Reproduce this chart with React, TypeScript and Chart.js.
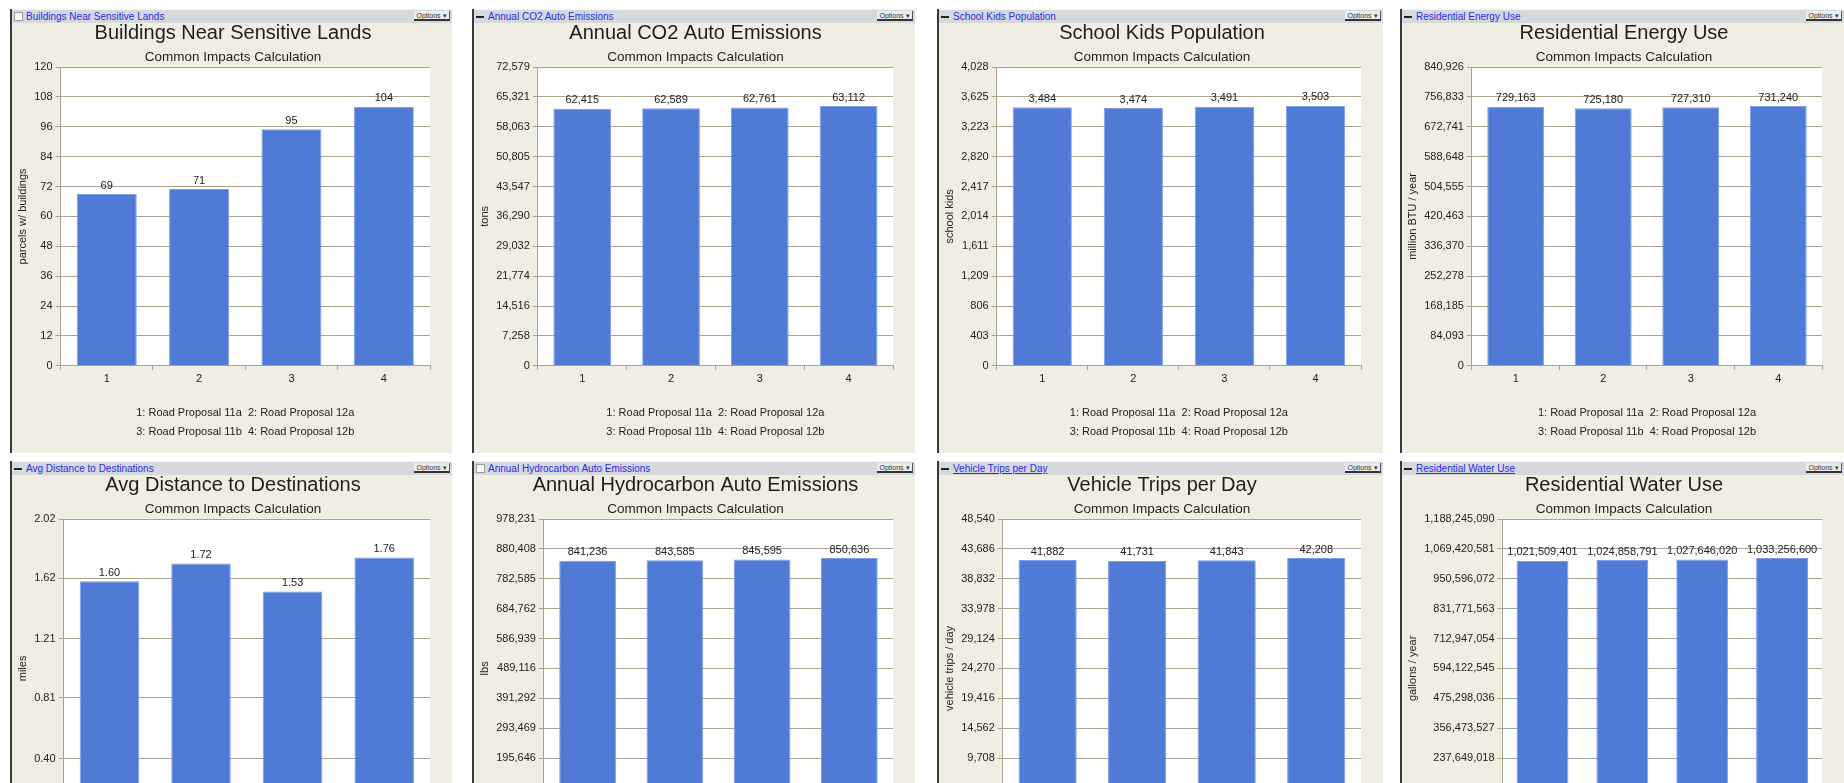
import React, { useEffect, useRef } from 'react';
import { Chart, registerables } from 'chart.js';

Chart.register(...registerables);

const FONT = "'Liberation Sans', Arial, Helvetica, sans-serif";

// ---------- data ----------
const categories = ['1', '2', '3', '4'];
const legendLines = [
  '1: Road Proposal 11a  2: Road Proposal 12a',
  '3: Road Proposal 11b  4: Road Proposal 12b',
];
const subtitleText = 'Common Impacts Calculation';

const buildingsValues = [69, 71, 95, 104];
const buildingsTicks = [0, 12, 24, 36, 48, 60, 72, 84, 96, 108, 120];

const co2Values = [62415, 62589, 62761, 63112];
const co2Ticks = [0, 7258, 14516, 21774, 29032, 36290, 43547, 50805, 58063, 65321, 72579];

const kidsValues = [3484, 3474, 3491, 3503];
const kidsTicks = [0, 403, 806, 1209, 1611, 2014, 2417, 2820, 3223, 3625, 4028];

const energyValues = [729163, 725180, 727310, 731240];
const energyTicks = [0, 84093, 168185, 252278, 336370, 420463, 504555, 588648, 672741, 756833, 840926];

const distanceValues = [1.6, 1.72, 1.53, 1.76];
const distanceTicks = [0, 0.4, 0.81, 1.21, 1.62, 2.02];

const hydrocarbonValues = [841236, 843585, 845595, 850636];
const hydrocarbonTicks = [0, 97823, 195646, 293469, 391292, 489116, 586939, 684762, 782585, 880408, 978231];

const tripsValues = [41882, 41731, 41843, 42208];
const tripsTicks = [0, 4854, 9708, 14562, 19416, 24270, 29124, 33978, 38832, 43686, 48540];

const waterValues = [1021509401, 1024858791, 1027646020, 1033256600];
const waterTicks = [
  0, 118824509, 237649018, 356473527, 475298036, 594122545, 712947054, 831771563, 950596072,
  1069420581, 1188245090,
];

// ---------- panel table ----------
type PanelSpec = {
  header: string;
  icon: 'check' | 'minus';
  underline: boolean;
  title: string;
  yTitle: string;
  values: number[];
  ticks: number[];
  decimals: number;
};

const panels: PanelSpec[] = [
  { header: 'Buildings Near Sensitive Lands', icon: 'check', underline: false, title: 'Buildings Near Sensitive Lands', yTitle: 'parcels w/ buildings', values: buildingsValues, ticks: buildingsTicks, decimals: 0 },
  { header: 'Annual CO2 Auto Emissions', icon: 'minus', underline: false, title: 'Annual CO2 Auto Emissions', yTitle: 'tons', values: co2Values, ticks: co2Ticks, decimals: 0 },
  { header: 'School Kids Population', icon: 'minus', underline: false, title: 'School Kids Population', yTitle: 'school kids', values: kidsValues, ticks: kidsTicks, decimals: 0 },
  { header: 'Residential Energy Use', icon: 'minus', underline: false, title: 'Residential Energy Use', yTitle: 'million BTU / year', values: energyValues, ticks: energyTicks, decimals: 0 },
  { header: 'Avg Distance to Destinations', icon: 'minus', underline: false, title: 'Avg Distance to Destinations', yTitle: 'miles', values: distanceValues, ticks: distanceTicks, decimals: 2 },
  { header: 'Annual Hydrocarbon Auto Emissions', icon: 'check', underline: false, title: 'Annual Hydrocarbon Auto Emissions', yTitle: 'lbs', values: hydrocarbonValues, ticks: hydrocarbonTicks, decimals: 0 },
  { header: 'Vehicle Trips per Day', icon: 'minus', underline: true, title: 'Vehicle Trips per Day', yTitle: 'vehicle trips / day', values: tripsValues, ticks: tripsTicks, decimals: 0 },
  { header: 'Residential Water Use', icon: 'minus', underline: true, title: 'Residential Water Use', yTitle: 'gallons / year', values: waterValues, ticks: waterTicks, decimals: 0 },
];

const colX = [10, 472, 937, 1400];
const colW = [442, 443, 446, 444];
const rowY = [9, 461];
const HEADER_H = 14;
const CANVAS_H = 430;

const fmt = (v: number, d: number) =>
  Number(v).toLocaleString('en-US', { minimumFractionDigits: d, maximumFractionDigits: d });

const plotBg = {
  id: 'plotBg',
  beforeDraw(chart: any) {
    const { ctx, chartArea } = chart;
    if (!chartArea) return;
    ctx.save();
    ctx.fillStyle = '#FFFFFF';
    ctx.fillRect(chartArea.left, chartArea.top, chartArea.right - chartArea.left, chartArea.bottom - chartArea.top);
    ctx.restore();
  },
};

const valueLabels = {
  id: 'valueLabels',
  afterDatasetsDraw(chart: any, _args: any, opts: any) {
    const ctx = chart.ctx;
    const meta = chart.getDatasetMeta(0);
    const data = chart.data.datasets[0].data;
    const d = opts && typeof opts.decimals === 'number' ? opts.decimals : 0;
    ctx.save();
    ctx.font = `11px ${FONT}`;
    ctx.fillStyle = '#222222';
    ctx.textAlign = 'center';
    ctx.textBaseline = 'bottom';
    meta.data.forEach((bar: any, i: number) => {
      ctx.fillText(fmt(data[i], d), bar.x, bar.y - 3);
    });
    ctx.restore();
  },
};

function ChartCanvas({ spec, width }: { spec: PanelSpec; width: number }) {
  const ref = useRef<HTMLCanvasElement | null>(null);
  useEffect(() => {
    if (!ref.current) return;
    const gridColor = '#A8A490';
    const tickVals = spec.ticks;
    const chart = new Chart(ref.current, {
      type: 'bar',
      data: {
        labels: categories,
        datasets: [
          {
            data: spec.values,
            backgroundColor: '#4F7AD6',
            borderColor: '#7E9DE6',
            borderWidth: 1,
            barPercentage: 0.65,
            categoryPercentage: 1,
            yAxisID: 'y',
          },
        ],
      },
      options: {
        animation: false,
        responsive: false,
        maintainAspectRatio: false,
        layout: { padding: { top: 0, right: 0, bottom: 8, left: 2 } },
        plugins: {
          legend: { display: false },
          tooltip: { enabled: false },
          title: {
            display: true,
            text: spec.title,
            color: '#1E1E1E',
            font: { family: FONT, size: 20, weight: 'normal', lineHeight: 1.0 },
            padding: { top: 0.5, bottom: 0 },
          },
          subtitle: {
            display: true,
            text: subtitleText,
            color: '#1E1E1E',
            font: { family: FONT, size: 13.5, weight: 'normal', lineHeight: 1.2 },
            padding: { top: 5.9, bottom: 1.4 },
          },
          valueLabels: { decimals: spec.decimals },
        } as any,
        scales: {
          x: {
            grid: { drawOnChartArea: false, tickLength: 4, color: gridColor },
            border: { color: gridColor },
            ticks: { color: '#222', padding: 3, font: { family: FONT, size: 11 } },
            title: {
              display: true,
              text: legendLines,
              color: '#222',
              font: { family: FONT, size: 11, lineHeight: 19 / 11 },
              padding: { top: 14, bottom: 4 },
            },
          },
          y: {
            min: 0,
            max: tickVals[tickVals.length - 1],
            afterBuildTicks: (axis: any) => {
              axis.ticks = tickVals.map((v) => ({ value: v }));
            },
            grid: { color: gridColor, tickLength: 5 },
            border: { color: gridColor },
            ticks: {
              color: '#222',
              padding: 3,
              font: { family: FONT, size: 11 },
              callback: (v: any) => fmt(Number(v), spec.decimals),
            },
            title: {
              display: true,
              text: spec.yTitle,
              color: '#222',
              font: { family: FONT, size: 11 },
              padding: { top: 2, bottom: 2 },
            },
          },
          rightSpace: {
            position: 'right',
            display: true,
            grid: { display: false, drawTicks: false },
            border: { display: false },
            ticks: { display: false },
            afterFit: (axis: any) => {
              axis.width = 22;
            },
          },
        },
      } as any,
      plugins: [plotBg, valueLabels],
    });
    return () => chart.destroy();
  }, [spec, width]);
  return <canvas ref={ref} width={width} height={CANVAS_H} style={{ display: 'block', width, height: CANVAS_H }} />;
}

function Panel({ spec, x, y, w }: { spec: PanelSpec; x: number; y: number; w: number }) {
  const inner = w - 2;
  return (
    <div
      style={{
        position: 'absolute',
        left: x,
        top: y,
        width: w,
        height: HEADER_H + CANVAS_H,
        background: '#F0EEE3',
        borderLeft: '2px solid #3A3A3A',
        boxSizing: 'border-box',
        overflow: 'hidden',
      }}
    >
      <div
        style={{
          position: 'absolute',
          left: 0,
          top: 0,
          width: inner,
          height: HEADER_H,
          background: '#D5D8DC',
          borderTop: '1px solid #F4F5F7',
          boxSizing: 'border-box',
        }}
      >
        <div
          style={{
            position: 'absolute',
            left: 2,
            top: 2,
            width: 9,
            height: 9,
            background: spec.icon === 'check' ? '#FFFFFF' : 'transparent',
            border: spec.icon === 'check' ? '1px solid #9A9A9A' : 'none',
            boxSizing: 'border-box',
          }}
        >
          {spec.icon === 'minus' ? (
            <div style={{ position: 'absolute', left: 0, top: 4, width: 8, height: 2, background: '#222' }} />
          ) : null}
        </div>
        <span
          style={{
            position: 'absolute',
            left: 14,
            top: 0,
            font: `10px ${FONT}`,
            lineHeight: '13px',
            color: '#2A2AEE',
            whiteSpace: 'nowrap',
            textDecoration: spec.underline ? 'underline' : 'none',
          }}
        >
          {spec.header}
        </span>
        <div
          style={{
            position: 'absolute',
            right: 2,
            top: 1,
            width: 36,
            height: 10,
            background: '#ECECEC',
            borderBottom: '2px solid #333',
            borderRight: '1px solid #555',
            font: `7px ${FONT}`,
            lineHeight: '10px',
            color: '#333',
            textAlign: 'center',
            boxSizing: 'border-box',
          }}
        >
          Options ▾
        </div>
      </div>
      <div style={{ position: 'absolute', left: 0, top: HEADER_H }}>
        <ChartCanvas spec={spec} width={inner} />
      </div>
    </div>
  );
}

export default function App() {
  return (
    <div
      style={{
        position: 'absolute',
        left: 0,
        top: 0,
        width: 1844,
        height: 783,
        overflow: 'hidden',
        background: '#FFFFFF',
      }}
    >
      {panels.map((spec, i) => {
        const col = i % 4;
        const row = Math.floor(i / 4);
        return <Panel key={i} spec={spec} x={colX[col]} y={rowY[row]} w={colW[col]} />;
      })}
    </div>
  );
}
